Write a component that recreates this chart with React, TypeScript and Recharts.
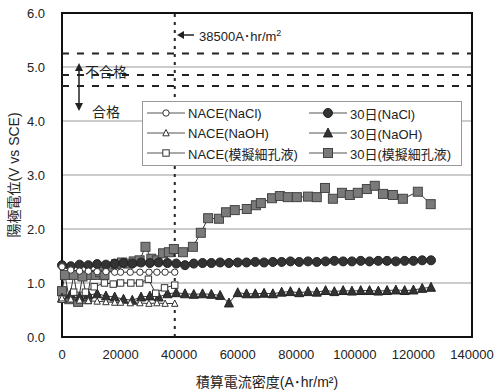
import React from 'react';
import {
  ComposedChart,
  Scatter,
  XAxis,
  YAxis,
  CartesianGrid,
  ReferenceLine,
  ReferenceArea,
} from 'recharts';

// x grid (A·hr/m2) of the 30-day tests and the NACE tests
const day30X = [
  0, 3000, 6000, 9000, 12000, 15000, 18000, 21000, 24000, 27000, 30000, 33000, 36000, 39000, 42000,
  45000, 48000, 51000, 54000, 57000, 60000, 63000, 66000, 69000, 72000, 75000, 78000, 81000, 84000,
  87000, 90000, 93000, 96000, 99000, 102000, 105000, 108000, 111000, 114000, 117000, 120000, 123000,
  126000,
];
const day30NaCl = [
  1.33, 1.31, 1.34, 1.33, 1.35, 1.34, 1.36, 1.37, 1.36, 1.38, 1.37, 1.38, 1.37, 1.36, 1.33, 1.36,
  1.37, 1.37, 1.38, 1.37, 1.38, 1.38, 1.39, 1.38, 1.39, 1.39, 1.4, 1.39, 1.4, 1.39, 1.4, 1.41, 1.4,
  1.4, 1.41, 1.4, 1.41, 1.41, 1.4, 1.41, 1.41, 1.42, 1.42,
];
const day30NaOH = [
  0.72, 0.8, 0.74, 0.78, 0.8, 0.76, 0.74, 0.7, 0.68, 0.74, 0.76, 0.74, 0.8, 0.82, 0.8, 0.79, 0.8,
  0.79, 0.77, 0.63, 0.82, 0.8, 0.8, 0.81, 0.8, 0.83, 0.84, 0.82, 0.84, 0.83, 0.86, 0.84, 0.86, 0.85,
  0.86, 0.86, 0.85, 0.86, 0.87, 0.86, 0.87, 0.9, 0.92,
];
const day30PoreX = [
  0, 1000, 2500, 4000, 5500, 7000, 8500, 10000, 11500, 13000, 14500, 16500, 18500, 20500, 22500,
  24500, 26500, 28500, 30500, 32500, 34500, 36500, 38200, 41300, 44700, 47400, 49900, 53600, 56000,
  59000, 63100, 66200, 67900, 71700, 74400, 77100, 80200, 84000, 87000, 89800, 92500, 95600, 98300,
  101000, 104100, 106800, 109600, 113000, 116400, 121500, 125900,
];
const day30Pore = [
  0.85, 1.15, 0.7, 1.15, 0.65, 1.12, 0.7, 1.15, 1.15, 1.2, 1.15, 1.3, 1.35, 1.38, 1.36, 1.4, 1.42,
  1.67, 1.45, 1.42, 1.55, 1.57, 1.63, 1.57, 1.67, 1.93, 2.2, 2.19, 2.31, 2.35, 2.37, 2.44, 2.48,
  2.57, 2.61, 2.59, 2.59, 2.6, 2.59, 2.76, 2.56, 2.67, 2.63, 2.67, 2.74, 2.8, 2.65, 2.63, 2.56, 2.69,
  2.46,
];
const naceX = [0, 3000, 6000, 9000, 12000, 15000, 18000, 20000, 23300, 26600, 29700, 32400, 35200, 38500];
const naceNaCl = [1.3, 1.24, 1.22, 1.22, 1.21, 1.21, 1.2, 1.2, 1.2, 1.2, 1.2, 1.2, 1.2, 1.2];
const naceNaOH = [0.72, 0.7, 0.68, 0.67, 0.66, 0.65, 0.64, 0.64, 0.63, 0.63, 0.62, 0.63, 0.62, 0.62];
const nacePoreX = [0, 4000, 8000, 11000, 14500, 17500, 20000, 23500, 26500, 29500, 32000, 35000, 38500];
const nacePore = [0.7, 0.83, 0.83, 0.93, 1.0, 0.98, 1.0, 1.0, 1.0, 1.07, 0.81, 0.91, 0.96];

const xTicks = [0, 20000, 40000, 60000, 80000, 100000, 120000, 140000];
const yTicks = [0, 1, 2, 3, 4, 5, 6];
const limitLines = [5.25, 4.85, 4.65];
const nacePeriod = 38500;

const zip = (xs: number[], ys: number[]) => ys.map((y, i) => ({ x: xs[i], y }));

const FONT = '"Liberation Sans", "Noto Sans CJK JP", sans-serif';
const INK = '#222';

type Kind = 'circle' | 'triangle' | 'square';

const Marker = ({ kind, filled, cx, cy }: { kind: Kind; filled: boolean; cx: number; cy: number }) => {
  const r = filled ? 4.5 : 3.2;
  const fill = filled ? (kind === 'square' ? '#7a7a7a' : '#333') : '#fff';
  const stroke = filled ? (kind === 'square' ? '#444' : '#222') : '#333';
  if (kind === 'circle') return <circle cx={cx} cy={cy} r={r} fill={fill} stroke={stroke} strokeWidth={1} />;
  if (kind === 'square')
    return <rect x={cx - r} y={cy - r} width={r * 2} height={r * 2} fill={fill} stroke={stroke} strokeWidth={1} />;
  const h = r * 1.1;
  return (
    <polygon
      points={`${cx},${cy - h} ${cx + r},${cy + h * 0.8} ${cx - r},${cy + h * 0.8}`}
      fill={fill}
      stroke={stroke}
      strokeWidth={1}
    />
  );
};

const series = [
  { name: '30日(模擬細孔液)', data: zip(day30PoreX, day30Pore), kind: 'square' as Kind, filled: true },
  { name: '30日(NaCl)', data: zip(day30X, day30NaCl), kind: 'circle' as Kind, filled: true },
  { name: '30日(NaOH)', data: zip(day30X, day30NaOH), kind: 'triangle' as Kind, filled: true },
  { name: 'NACE(模擬細孔液)', data: zip(nacePoreX, nacePore), kind: 'square' as Kind, filled: false },
  { name: 'NACE(NaCl)', data: zip(naceX, naceNaCl), kind: 'circle' as Kind, filled: false },
  { name: 'NACE(NaOH)', data: zip(naceX, naceNaOH), kind: 'triangle' as Kind, filled: false },
];

const legendRows = [
  ['NACE(NaCl)', '30日(NaCl)'],
  ['NACE(NaOH)', '30日(NaOH)'],
  ['NACE(模擬細孔液)', '30日(模擬細孔液)'],
];

const LegendItem = ({ name }: { name: string }) => {
  const s = series.find((d) => d.name === name)!;
  return (
    <div style={{ display: 'flex', alignItems: 'center', height: 20 }}>
      <svg width={38} height={14} style={{ marginRight: 3 }}>
        <line x1={0} y1={7} x2={38} y2={7} stroke="#555" strokeWidth={1} />
        <Marker kind={s.kind} filled={s.filled} cx={19} cy={7} />
      </svg>
      <span>{name}</span>
    </div>
  );
};

export default function App() {
  return (
    <div
      style={{
        position: 'absolute',
        left: 0,
        top: 0,
        width: 496,
        height: 390,
        background: '#fff',
        fontFamily: FONT,
        color: INK,
      }}
    >
      <ComposedChart width={496} height={390} margin={{ top: 13, right: 24, bottom: 0, left: 0 }}>
        <CartesianGrid vertical={false} stroke="#999" />
        <XAxis
          type="number"
          dataKey="x"
          domain={[0, 140000]}
          ticks={xTicks}
          interval={0}
          axisLine={false}
          tickLine={false}
          tickMargin={7}
          height={53}
          tick={{ fill: INK, fontSize: 13, fontFamily: FONT }}
          label={{
            value: '積算電流密度(A･hr/m²)',
            position: 'insideBottom',
            offset: 3,
            fill: INK,
            fontSize: 14,
            fontFamily: FONT,
          }}
        />
        <YAxis
          type="number"
          dataKey="y"
          domain={[0, 6]}
          ticks={yTicks}
          interval={0}
          axisLine={false}
          tickLine={false}
          tickMargin={11}
          width={62}
          tickFormatter={(v: number) => v.toFixed(1)}
          tick={{ fill: INK, fontSize: 13, fontFamily: FONT }}
          label={{
            value: '陽極電位(V vs SCE)',
            angle: -90,
            position: 'insideLeft',
            offset: 14,
            style: { textAnchor: 'middle' },
            fill: INK,
            fontSize: 14,
            fontFamily: FONT,
          }}
        />
        {limitLines.map((v) => (
          <ReferenceLine key={v} y={v} stroke={INK} strokeWidth={2} strokeDasharray="7 8" />
        ))}
        <ReferenceLine x={nacePeriod} stroke={INK} strokeWidth={2} strokeDasharray="3 5" />
        {series.map((s) => (
          <Scatter
            key={s.name}
            name={s.name}
            data={s.data}
            line={{ stroke: '#333', strokeWidth: 1 }}
            isAnimationActive={false}
            shape={(p: any) => <Marker kind={s.kind} filled={s.filled} cx={p.cx} cy={p.cy} />}
          />
        ))}
        <ReferenceArea x1={0} x2={140000} y1={0} y2={6} fill="none" stroke="#111" strokeWidth={2} />
      </ComposedChart>

      {/* annotations */}
      <svg style={{ position: 'absolute', left: 177, top: 30 }} width={18} height={10}>
        <line x1={3} y1={5} x2={17} y2={5} stroke={INK} strokeWidth={1.5} />
        <polygon points="0,5 7,1 7,9" fill={INK} />
      </svg>
      <div style={{ position: 'absolute', left: 199, top: 26, fontSize: 13, whiteSpace: 'nowrap' }}>
        38500A･hr/m<sup style={{ fontSize: 9 }}>2</sup>
      </div>
      <svg style={{ position: 'absolute', left: 72, top: 62 }} width={14} height={50}>
        <line x1={7} y1={6} x2={7} y2={44} stroke={INK} strokeWidth={1.5} />
        <polygon points="7,1 3,9 11,9" fill={INK} />
        <polygon points="7,49 3,41 11,41" fill={INK} />
      </svg>
      <div style={{ position: 'absolute', left: 85, top: 61, fontSize: 14 }}>不合格</div>
      <div style={{ position: 'absolute', left: 92, top: 101, fontSize: 14 }}>合格</div>

      {/* legend */}
      <div
        style={{
          position: 'absolute',
          left: 142,
          top: 101,
          width: 318,
          height: 62,
          background: '#fff',
          border: '1px solid #999',
          fontSize: 13,
          paddingTop: 1,
        }}
      >
        {legendRows.map(([a, b]) => (
          <div key={a} style={{ display: 'flex' }}>
            <div style={{ width: 162, paddingLeft: 4 }}>
              <LegendItem name={a} />
            </div>
            <LegendItem name={b} />
          </div>
        ))}
      </div>
    </div>
  );
}
